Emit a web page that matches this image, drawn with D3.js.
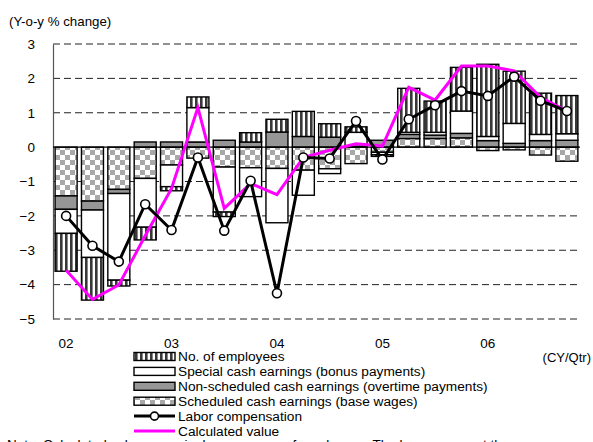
<!DOCTYPE html>
<html>
<head>
<meta charset="utf-8">
<script src="https://cdn.jsdelivr.net/npm/d3@7"></script>
<style>
  body { margin: 0; background: #fff; }
  svg text { font-family: "Liberation Sans", Arial, sans-serif; fill: #000; }
</style>
</head>
<body>
<script>
// Data (y-o-y % change, quarterly 2002 Q1 - 2006 Q4)
const quarters = [
  "02Q1", "02Q2", "02Q3", "02Q4", "03Q1", "03Q2", "03Q3", "03Q4",
  "04Q1", "04Q2", "04Q3", "04Q4", "05Q1", "05Q2", "05Q3", "05Q4",
  "06Q1", "06Q2", "06Q3", "06Q4"
];
const yearLabels = ["02", "03", "04", "05", "06"];
const yTicks = [-5, -4, -3, -2, -1, 0, 1, 2, 3];

const scheduled = [-1.42, -1.57, -1.23, -0.91, -0.52, -0.32, -0.58, -0.60,
  -0.62, -0.67, -0.63, -0.48, -0.15, 0.25, 0.25, 0.27, -0.10, -0.08, -0.23, -0.41];
const nonScheduled = [-0.39, -0.26, -0.12, 0.15, 0.15, 0.15, 0.20, 0.15,
  0.44, 0.31, 0.29, 0.03, 0.20, 0.12, 0.10, 0.13, 0.19, 0.11, 0.19, 0.20];
const special = [-0.70, -1.38, -2.52, -1.42, -0.63, 1.00, -1.31, -0.84,
  -1.58, -0.73, -0.14, 0.40, -0.07, 0.06, 0.08, 0.65, 0.12, 0.58, 0.18, 0.19];
const employees = [-1.10, -1.24, -0.17, -0.37, -0.12, 0.31, -0.13, 0.27,
  0.37, 0.73, 0.39, 0.16, -0.05, 1.28, 0.91, 1.27, 2.10, 1.52, 1.20, 1.11];
const laborComp = [-2.00, -2.87, -3.33, -1.66, -2.41, -0.30, -2.43, -0.98,
  -4.25, -0.30, -0.33, 0.76, -0.36, 0.81, 1.22, 1.63, 1.49, 2.05, 1.35, 1.05];
const calculated = [-3.58, -4.43, -4.01, -2.58, -1.20, 1.15, -1.78, -1.06,
  -1.38, -0.30, -0.09, 0.10, 0.03, 1.74, 1.37, 2.36, 2.36, 2.22, 1.45, 1.05];

const seriesKeys = ["scheduled", "nonScheduled", "special", "employees"];
const seriesFill = {
  employees: "url(#stripes)",
  special: "#ffffff",
  nonScheduled: "#969696",
  scheduled: "url(#checker)"
};
const legendItems = [
  { key: "employees", label: "No. of employees" },
  { key: "special", label: "Special cash earnings (bonus payments)" },
  { key: "nonScheduled", label: "Non-scheduled cash earnings (overtime payments)" },
  { key: "scheduled", label: "Scheduled cash earnings (base wages)" },
  { key: "labor", label: "Labor compensation" },
  { key: "calc", label: "Calculated value" }
];

const rows = quarters.map((q, i) => ({
  q,
  scheduled: scheduled[i],
  nonScheduled: nonScheduled[i],
  special: special[i],
  employees: employees[i]
}));

// Chart dimensions
const width = 593;
const height = 442;
const marginLeft = 53;
const marginRight = 13;
const marginTop = 44;
const plotBottom = 319;

// SCALES
const x = d3.scaleBand()
  .domain(quarters)
  .range([marginLeft, width - marginRight])
  .paddingInner(0.165)
  .paddingOuter(0.08);
const y = d3.scaleLinear().domain([-5, 3]).range([plotBottom, marginTop]);
const cx = q => x(q) + x.bandwidth() / 2;

const svg = d3.select("body").append("svg")
  .attr("width", width)
  .attr("height", height);

// PATTERNS
const defs = svg.append("defs");
const stripes = defs.append("pattern")
  .attr("id", "stripes")
  .attr("patternUnits", "userSpaceOnUse")
  .attr("width", 5).attr("height", 5);
stripes.append("rect").attr("width", 5).attr("height", 5).attr("fill", "#ffffff");
stripes.append("rect").attr("width", 2.6).attr("height", 5).attr("fill", "#383838");

const checker = defs.append("pattern")
  .attr("id", "checker")
  .attr("patternUnits", "userSpaceOnUse")
  .attr("width", 10).attr("height", 10);
checker.append("rect").attr("width", 10).attr("height", 10).attr("fill", "#ffffff");
checker.append("rect").attr("width", 5).attr("height", 5).attr("fill", "#a8a8a8");
checker.append("rect").attr("x", 5).attr("y", 5).attr("width", 5).attr("height", 5).attr("fill", "#a8a8a8");

// GRID
svg.append("g")
  .selectAll("line")
  .data(yTicks.filter(d => d !== 0))
  .join("line")
  .attr("x1", marginLeft).attr("x2", width - marginRight)
  .attr("y1", d => y(d)).attr("y2", d => y(d))
  .attr("stroke", "#222")
  .attr("stroke-width", 1)
  .attr("stroke-dasharray", "7,4");

// Y AXIS
const yAxis = svg.append("g")
  .attr("transform", `translate(${marginLeft},0)`)
  .call(d3.axisLeft(y).tickValues(yTicks).tickSize(0).tickPadding(18).tickFormat(d3.format("d")));
yAxis.select(".domain").attr("stroke", "#555").attr("stroke-width", 1.2);
yAxis.selectAll("text").attr("font-size", 13.5).style("font-family", "'Liberation Sans', Arial, sans-serif");

// BARS
const stacked = d3.stack().keys(seriesKeys).offset(d3.stackOffsetDiverging)(rows);
svg.append("g")
  .selectAll("g")
  .data(stacked)
  .join("g")
  .attr("fill", d => seriesFill[d.key])
  .selectAll("rect")
  .data(d => d)
  .join("rect")
  .attr("x", d => x(d.data.q))
  .attr("width", x.bandwidth())
  .attr("y", d => y(Math.max(d[0], d[1])))
  .attr("height", d => Math.abs(y(d[0]) - y(d[1])))
  .attr("stroke", "#000")
  .attr("stroke-width", 1.4);

// zero line
svg.append("line")
  .attr("x1", marginLeft).attr("x2", width - marginRight)
  .attr("y1", y(0)).attr("y2", y(0))
  .attr("stroke", "#000").attr("stroke-width", 1.2);

// LINES
const line = d3.line().x((d, i) => cx(quarters[i])).y(d => y(d));
svg.append("path")
  .datum(calculated)
  .attr("d", line)
  .attr("fill", "none")
  .attr("stroke", "#ff00ff")
  .attr("stroke-width", 3);
svg.append("path")
  .datum(laborComp)
  .attr("d", line)
  .attr("fill", "none")
  .attr("stroke", "#000")
  .attr("stroke-width", 3);
svg.append("g")
  .selectAll("circle")
  .data(laborComp)
  .join("circle")
  .attr("cx", (d, i) => cx(quarters[i]))
  .attr("cy", d => y(d))
  .attr("r", 4.5)
  .attr("fill", "#fff")
  .attr("stroke", "#000")
  .attr("stroke-width", 1.6);

// X LABELS
svg.append("g")
  .selectAll("text")
  .data(yearLabels)
  .join("text")
  .attr("x", d => cx(d + "Q1"))
  .attr("y", 348)
  .attr("text-anchor", "middle")
  .attr("font-size", 13.5)
  .text(d => d);

svg.append("text")
  .attr("x", 9).attr("y", 26)
  .attr("font-size", 13.3)
  .text("(Y-o-y % change)");

svg.append("text")
  .attr("x", 591).attr("y", 362)
  .attr("text-anchor", "end")
  .attr("font-size", 13)
  .text("(CY/Qtr)");

// LEGEND
const legend = svg.append("g");
const lx = 134, lw = 41, ly0 = 356.5, lstep = 14.9;
legendItems.forEach((item, i) => {
  const yy = ly0 + i * lstep;
  if (item.key === "labor") {
    legend.append("line").attr("x1", lx).attr("x2", lx + lw).attr("y1", yy).attr("y2", yy)
      .attr("stroke", "#000").attr("stroke-width", 3);
    legend.append("circle").attr("cx", lx + lw / 2).attr("cy", yy).attr("r", 4)
      .attr("fill", "#fff").attr("stroke", "#000").attr("stroke-width", 1.6);
  } else if (item.key === "calc") {
    legend.append("line").attr("x1", lx).attr("x2", lx + lw).attr("y1", yy).attr("y2", yy)
      .attr("stroke", "#ff00ff").attr("stroke-width", 3);
  } else {
    legend.append("rect").attr("x", lx).attr("y", yy - 4).attr("width", lw).attr("height", 8)
      .attr("fill", seriesFill[item.key]).attr("stroke", "#000").attr("stroke-width", 1.4);
  }
  legend.append("text")
    .attr("x", lx + lw + 3)
    .attr("y", yy + 4.8)
    .attr("font-size", 13.7)
    .text(item.label);
});

// Note (cut off by the frame, as in the original)
svg.append("text")
  .attr("x", 7).attr("y", 449)
  .attr("font-size", 13.5)
  .text("Note: Calculated value = nominal wages x no. of employees. The bars represent the");
</script>
</body>
</html>
